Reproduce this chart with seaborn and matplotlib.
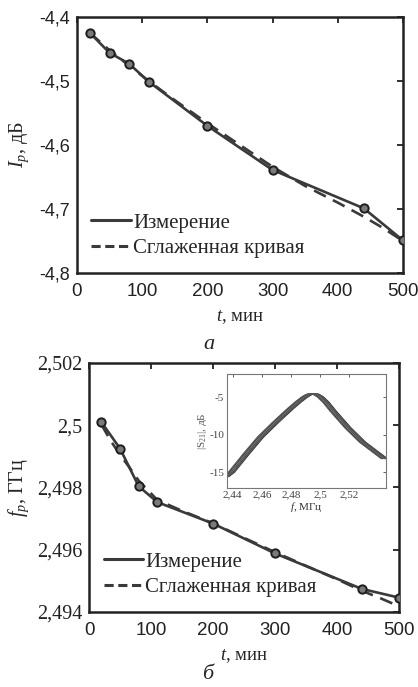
import numpy as np
import pandas as pd
import seaborn as sns
import matplotlib
matplotlib.use("Agg")
import matplotlib.pyplot as plt
from matplotlib.lines import Line2D

# ---------------- data ----------------
t_meas = [20, 50, 80, 110, 200, 300, 440, 500]
ip_meas = [-4.425, -4.456, -4.473, -4.501, -4.570, -4.639, -4.699, -4.749]
fp_meas = [2.50010, 2.49925, 2.49804, 2.49753, 2.49684, 2.49588, 2.49474, 2.49446]

t_smooth = [20, 50, 80, 110, 150, 200, 250, 300, 350, 400, 440, 470, 500]
ip_smooth = [-4.425, -4.452, -4.476, -4.500, -4.530, -4.566, -4.600, -4.634,
             -4.664, -4.690, -4.712, -4.730, -4.750]

t_smooth_f = [20, 35, 50, 65, 80, 110, 150, 200, 250, 300, 350, 400, 440, 470, 500]
fp_smooth = [2.50002, 2.49950, 2.49905, 2.49865, 2.49822, 2.49760, 2.49725, 2.49685,
             2.49638, 2.49592, 2.49548, 2.49505, 2.49468, 2.49444, 2.49418]

# inset: resonance curve |S21| (one trace)
f_inset = [2.436, 2.440, 2.450, 2.460, 2.470, 2.480, 2.486, 2.490, 2.493, 2.4955,
           2.498, 2.501, 2.505, 2.510, 2.520, 2.530, 2.545]
s21_inset = [-15.6, -15.0, -12.6, -10.3, -8.4, -6.6, -5.6, -5.0, -4.65, -4.5,
             -4.6, -4.95, -5.7, -6.9, -9.1, -11.0, -13.2]
# small frequency offsets (GHz) of the overlapping traces of the bundle
trace_shift = [0.0012, 0.0006, 0.0, -0.0006, -0.0012, -0.0019, -0.0025, -0.0031]

top_yticks = [-4.8, -4.7, -4.6, -4.5, -4.4]
top_yticklabels = ["-4,8", "-4,7", "-4,6", "-4,5", "-4,4"]
bot_yticks = [2.494, 2.496, 2.498, 2.500, 2.502]
bot_yticklabels = ["2,494", "2,496", "2,498", "2,5", "2,502"]
xticks = [0, 100, 200, 300, 400, 500]
inset_xticks = [2.44, 2.46, 2.48, 2.50, 2.52]
inset_xticklabels = ["2,44", "2,46", "2,48", "2,5", "2,52"]
inset_yticks = [-15, -10, -5]
inset_yticklabels = ["-15", "-10", "-5"]

legend_labels = ["Измерение", "Сглаженная кривая"]

# ---------------- style ----------------
sns.set_style("white")
plt.rcParams["font.family"] = ["Liberation Serif", "DejaVu Serif"]
plt.rcParams["mathtext.fontset"] = "custom"
plt.rcParams["mathtext.it"] = "Liberation Serif:italic"
plt.rcParams["mathtext.rm"] = "Liberation Serif"

LINE = "#3a3a3a"
SANS = ["Liberation Sans", "DejaVu Sans"]

fig = plt.figure(figsize=(4.18, 6.87), dpi=100)

ax1 = fig.add_axes([0.184, 0.6026, 0.780, 0.3727])
ax2 = fig.add_axes([0.213, 0.1092, 0.742, 0.3624])
axi = fig.add_axes([0.543, 0.2897, 0.380, 0.1659])

df1 = pd.DataFrame({"t": t_meas, "v": ip_meas})
df1s = pd.DataFrame({"t": t_smooth, "v": ip_smooth})
df2 = pd.DataFrame({"t": t_meas, "v": fp_meas})
df2s = pd.DataFrame({"t": t_smooth_f, "v": fp_smooth})


def style_main(ax, meas, smooth, yticks, yticklabels, ylim, ylabel, tick_family,
               ytick_size, ylabelpad):
    sns.lineplot(ax=ax, data=meas, x="t", y="v", color=LINE, lw=1.9,
                 marker="o", markersize=6, markerfacecolor="#7a7a7a",
                 markeredgecolor="#1e1e1e", markeredgewidth=1.4, zorder=3)
    sns.lineplot(ax=ax, data=smooth, x="t", y="v", color=LINE, lw=1.9,
                 linestyle=(0, (5, 3)), zorder=2)
    ax.set_xlim(0, 500)
    ax.set_ylim(*ylim)
    ax.set_xticks(xticks)
    ax.set_xticklabels([str(x) for x in xticks], family=SANS, fontsize=13.5)
    ax.set_yticks(yticks)
    ax.set_yticklabels(yticklabels, family=tick_family, fontsize=ytick_size)
    ax.tick_params(direction="in", length=4, width=1.3, top=True, right=True,
                   colors="#222222")
    ax.tick_params(axis="x", pad=7)
    ax.tick_params(axis="y", pad=5)
    for s in ax.spines.values():
        s.set_linewidth(1.8)
        s.set_color("#222222")
    ax.set_xlabel("$t$, мин", fontsize=13.5, labelpad=6)
    ax.set_ylabel(ylabel, fontsize=14.5, labelpad=ylabelpad)
    handles = [Line2D([], [], color=LINE, lw=2.2),
               Line2D([], [], color=LINE, lw=2.2, linestyle=(0, (3, 1.5)))]
    ax.legend(handles, legend_labels, loc="lower left", frameon=False,
              fontsize=15, handlelength=1.9, handletextpad=0.1,
              labelspacing=0.3, borderaxespad=0.3, bbox_to_anchor=(0.0, 0.0))


style_main(ax1, df1, df1s, top_yticks, top_yticklabels, (-4.8, -4.4), "$I_p$, дБ",
           SANS, 13, 6)
style_main(ax2, df2, df2s, bot_yticks, bot_yticklabels, (2.494, 2.502), "$f_p$, ГГц",
           ["Liberation Serif", "DejaVu Serif"], 14.5, 4)

# ---------------- inset ----------------
grays = ["#2a2a2a", "#606060", "#3a3a3a", "#707070", "#444444", "#808080", "#333333", "#5a5a5a"]
for k, sh in enumerate(trace_shift):
    dfi = pd.DataFrame({"f": [f + sh for f in f_inset], "s": s21_inset})
    sns.lineplot(ax=axi, data=dfi, x="f", y="s", color=grays[k], lw=0.8)
axi.set_xlim(2.436, 2.545)
axi.set_ylim(-17.1, -1.9)
axi.set_xticks(inset_xticks)
axi.set_xticklabels(inset_xticklabels, fontsize=8)
axi.set_yticks(inset_yticks)
axi.set_yticklabels(inset_yticklabels, fontsize=8)
axi.tick_params(direction="in", length=2, width=0.6, top=True, right=True,
                pad=2, colors="#444444")
for s in axi.spines.values():
    s.set_linewidth(0.8)
    s.set_color("#777777")
axi.set_xlabel("$f$, МГц", fontsize=8, labelpad=0, color="#333333")
axi.set_ylabel("|S$_{21}$|, дБ", fontsize=8, labelpad=0, color="#555555")
axi.set_facecolor("white")

# panel letters
fig.text(0.500, 0.498, "а", fontsize=16, style="italic", ha="center", va="center")
fig.text(0.497, 0.004, "б", fontsize=16, style="italic", ha="center", va="bottom")

fig.savefig("out.png", dpi=100)
